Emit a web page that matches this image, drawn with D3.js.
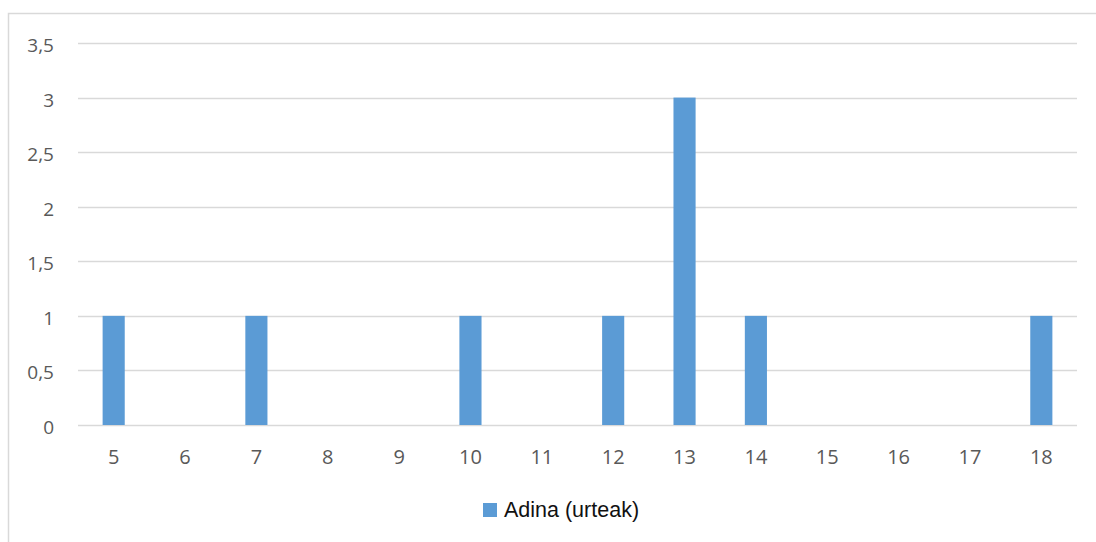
<!DOCTYPE html>
<html>
<head>
<meta charset="utf-8">
<script src="https://cdn.jsdelivr.net/npm/d3@7"></script>
<style>
  html, body { margin: 0; padding: 0; background: #fff; }
  svg { display: block; }
</style>
</head>
<body>
<svg id="chart" width="1096" height="542"></svg>
<script>
// Ages (years) and number of people at each age
const categories = ["5", "6", "7", "8", "9", "10", "11", "12", "13", "14", "15", "16", "17", "18"];
const values = [1, 0, 1, 0, 0, 1, 0, 1, 3, 1, 0, 0, 0, 1];
const yTicks = [0, 0.5, 1, 1.5, 2, 2.5, 3, 3.5];
const seriesName = "Adina (urteak)";

const svg = d3.select("#chart");
const margin = { left: 78, right: 1077, top: 43, bottom: 425 };

// Outer chart frame
svg.append("rect")
  .attr("x", 8.5).attr("y", 13.5)
  .attr("width", 1200).attr("height", 600)
  .attr("fill", "none").attr("stroke", "#d9d9d9").attr("stroke-width", 1.5);

const x = d3.scaleBand().domain(categories).range([margin.left, margin.right]).paddingInner(0.69).paddingOuter(0.345);
const xc = d3.scaleBand().domain(categories).range([margin.left, margin.right]);
const y = d3.scaleLinear().domain([0, 3.5]).range([margin.bottom, margin.top]);

const fmt = v => String(v).replace(".", ",");

// Horizontal gridlines
svg.append("g").selectAll("line").data(yTicks).join("line")
  .attr("x1", margin.left).attr("x2", margin.right)
  .attr("y1", d => Math.round(y(d)) + 0.5).attr("y2", d => Math.round(y(d)) + 0.5)
  .attr("stroke", "#d9d9d9").attr("stroke-width", 1.5);

// Y axis labels
svg.append("g").selectAll("text").data(yTicks).join("text")
  .attr("x", 54).attr("y", d => y(d) + 9)
  .attr("text-anchor", "end")
  .attr("font-family", "'Open Sans', sans-serif").attr("font-size", 19)
  .attr("fill", "#595959")
  .text(fmt);

// Bars
svg.append("g").selectAll("rect").data(values.map((v, i) => ({ c: categories[i], v })).filter(d => d.v > 0)).join("rect")
  .attr("x", d => x(d.c)).attr("width", x.bandwidth())
  .attr("y", d => y(d.v)).attr("height", d => y(0) - y(d.v))
  .attr("fill", "#5b9bd5");

// X axis labels
svg.append("g").selectAll("text").data(categories).join("text")
  .attr("x", d => xc(d) + xc.bandwidth() / 2).attr("y", 464)
  .attr("text-anchor", "middle")
  .attr("font-family", "'Open Sans', sans-serif").attr("font-size", 20)
  .attr("fill", "#595959")
  .text(d => d);

// Legend
const lg = svg.append("g").attr("transform", "translate(483,503)");
lg.append("rect").attr("width", 14).attr("height", 14).attr("fill", "#5b9bd5");
lg.append("text").attr("x", 21).attr("y", 14)
  .attr("font-family", "'Liberation Sans', Arial, sans-serif").attr("font-size", 21.5)
  .attr("fill", "#111")
  .text(seriesName);
</script>
</body>
</html>
